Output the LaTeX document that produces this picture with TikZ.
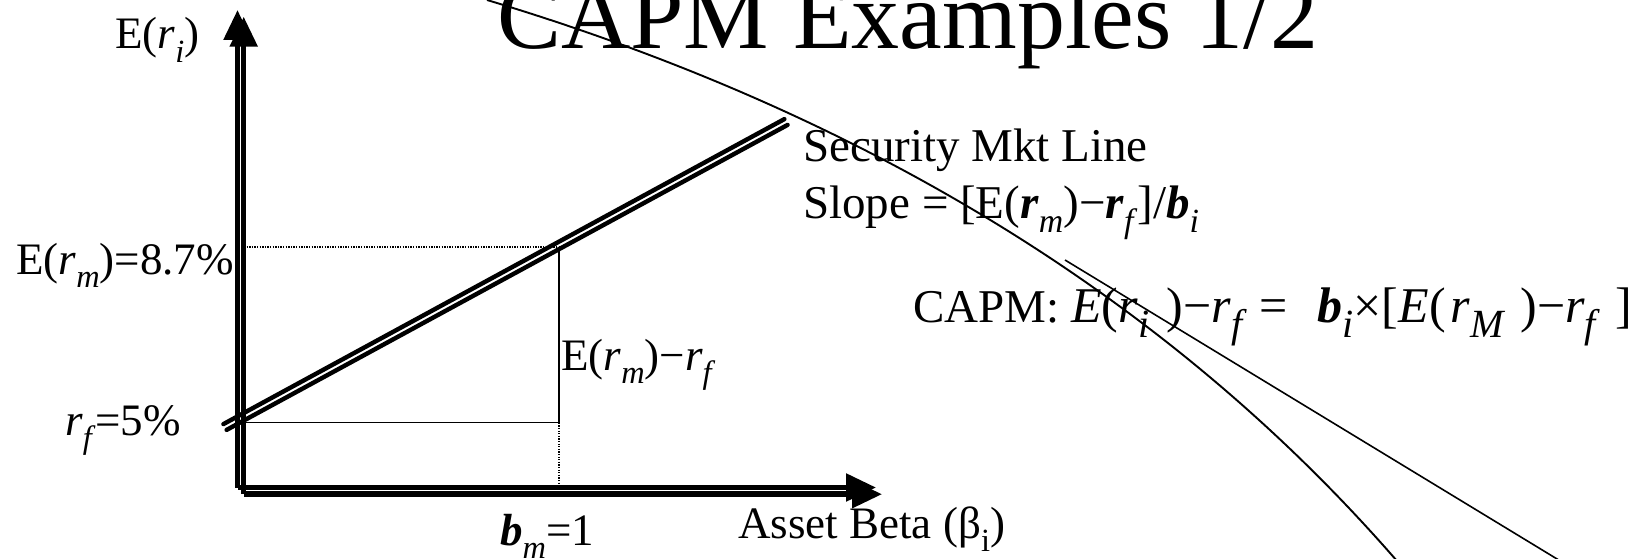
\documentclass[tikz,border=0pt]{standalone}
\usepackage{fontspec}
\setmainfont{Liberation Serif}
\usepackage{graphicx}
\usetikzlibrary{arrows.meta,calc}

% lowered, reduced-size index
\newcommand{\lowidx}[1]{\raisebox{-0.3em}{\scalebox{0.72}{#1}}}
\newcommand{\lowidxb}[1]{\raisebox{-0.3em}{\scalebox{0.8}{#1}}}
\newcommand{\bfit}[1]{\textbf{\textit{#1}}}

\tikzset{
  axis/.style={line width=5.5pt, -{Triangle[length=30pt,width=27pt]}},
  smlstroke/.style={line width=4.4pt, line cap=round},
  thin/.style={line width=1.3pt},
  dots/.style={line width=1.2pt, dash pattern=on 1.3pt off 1.3pt},
  curve/.style={line width=1.9pt},
  lbl/.style={anchor=base west, inner sep=0pt, font=\fontsize{45}{54}\selectfont},
  biglbl/.style={anchor=base west, inner sep=0pt, font=\fontsize{47}{56}\selectfont},
  ttl/.style={anchor=base west, inner sep=0pt, font=\fontsize{96}{110}\selectfont},
}

\begin{document}
\begin{tikzpicture}[x=1pt, y=-1pt]
\useasboundingbox (0,0) rectangle (1639,559);
\clip (0,0) rectangle (1639,559);

% title
\node[ttl] (title) at (497,49) {CAPM Examples 1/2};

% thin curve and line crossing the slide
\coordinate (c0) at (487,0);
\coordinate (c1) at (1059,172);
\coordinate (c2) at (1397,561);
\draw[curve] (c0) .. controls ($(c0)!2/3!(c1)$) and ($(c2)!2/3!(c1)$) .. (c2);
\coordinate (s0) at (1065,260);
\coordinate (s1) at (1562,562);
\draw[line width=1.6pt] (s0) -- (s1);

% reference lines for the market portfolio
\coordinate (rf) at (244,422.7);
\coordinate (mkt) at (559,247);
\coordinate (rfm) at (559,422.7);
\coordinate (erm) at (244,247);
\coordinate (bm) at (559,484);
\draw[thin] (rf) -- (rfm) -- (mkt);
\draw[dots] (erm) -- (mkt);
\draw[dots] (rfm) -- (bm);

% security market line (double stroke)
\coordinate (a0) at (223.4,424.1);
\coordinate (a1) at (784.4,119.1);
\coordinate (b0) at (226.6,429.9);
\coordinate (b1) at (787.6,124.9);
\draw[smlstroke] (a0) -- (a1);
\draw[smlstroke] (b0) -- (b1);

% axes with offset shadow
\coordinate (o1) at (237.5,487.5);
\coordinate (ytip1) at (237.5,10);
\coordinate (xtip1) at (876,487.5);
\coordinate (o2) at (243.7,494.2);
\coordinate (ytip2) at (243.7,16.7);
\coordinate (xtip2) at (882,494.2);
\draw[axis] (o2) -- (ytip2);
\draw[axis] (o2) -- (xtip2);
\draw[axis] (o1) -- (ytip1);
\draw[axis] (o1) -- (xtip1);

% axis labels
\node[lbl] (yl) at (115,49) {E(\textit{r}\lowidx{\textit{i}})};
\node[lbl] (xl) at (738,538) {Asset Beta (β\lowidx{i})};
\node[lbl] (ermlbl) at (16,274) {E(\textit{r}\lowidx{\textit{m}})=8.7\%};
\node[lbl] (rflbl) at (65,435) {\textit{r}\lowidx{\textit{f}}=5\%};
\node[lbl] (premlbl) at (561,370) {E(\textit{r}\lowidx{\textit{m}})−\textit{r}\lowidx{\textit{f}}};
\node[lbl] (bmlbl) at (500,545) {\bfit{b}\lowidx{\textit{m}}=1};

% line description and formula
\node[biglbl] (smllbl) at (803,162) {Security Mkt Line};
\node[biglbl] (slopelbl) at (803,218) {Slope = [E(\bfit{r}\lowidx{\textit{m}})−\bfit{r}\lowidx{\textit{f}}]/\bfit{b}\lowidx{\textit{i}}};
\node[biglbl] (capm) at (913,322) {CAPM: {\fontsize{50}{60}\selectfont\textit{E}(\textit{r}\lowidxb{\textit{i}}\hspace{0.35em})−\textit{r}\lowidxb{\textit{f}} =\hspace{0.6em}\bfit{b}\lowidxb{\textit{i}}×[\textit{E}(\hspace{0.1em}\textit{r}\lowidxb{\textit{M}}\hspace{0.3em})−\textit{r}\lowidxb{\textit{f}}\hspace{0.3em}]}};
\end{tikzpicture}
\end{document}
